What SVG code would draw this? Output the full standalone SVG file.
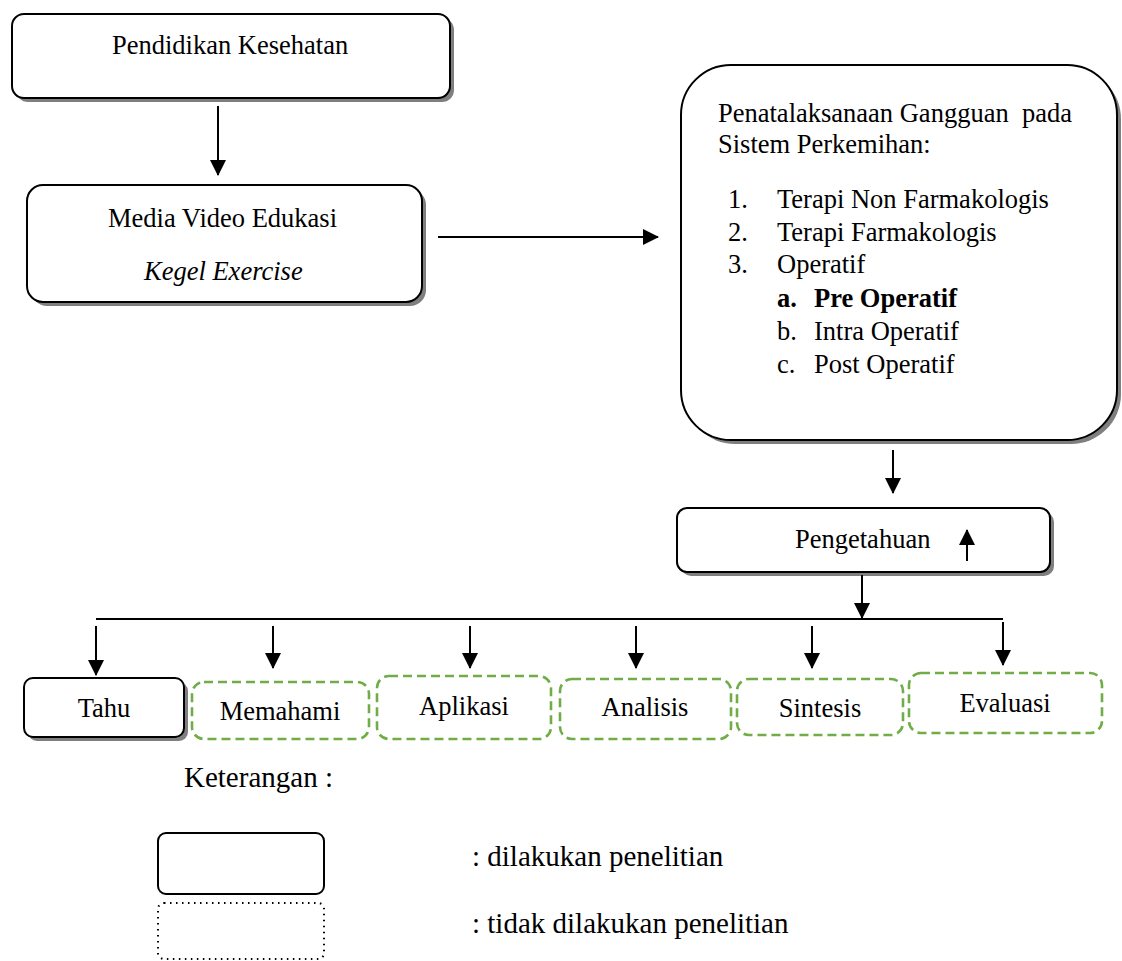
<svg xmlns="http://www.w3.org/2000/svg" xmlns:xlink="http://www.w3.org/1999/xlink" width="1122" height="961" viewBox="0 0 1122 961">
<style>
text{font-family:"Liberation Serif","Times New Roman",serif;font-size:26.5px;fill:#000}
.lg{font-size:29px}
.box{fill:#fff;stroke:#000;stroke-width:2}
.sh{fill:#7f7f7f;stroke:none}
.dash{fill:#fff;stroke:#70ad47;stroke-width:2.6;stroke-dasharray:9 5}
.dot{fill:none;stroke:#000;stroke-width:2;stroke-dasharray:1.5 4.5}
.ln{stroke:#000;stroke-width:2;fill:none}
.ar{stroke:#000;stroke-width:2;fill:none;marker-end:url(#ah)}
</style>
<defs>
<marker id="ah" viewBox="0 0 16 16" refX="15" refY="8" markerWidth="16" markerHeight="16" markerUnits="userSpaceOnUse" orient="auto">
<path d="M0,0 L16,8 L0,16 Z" fill="#000"/>
</marker>
</defs>
<rect width="1122" height="961" fill="#fff"/>

<g id="node-pendidikan">
<rect class="sh" x="16" y="18" width="438" height="84" rx="12"/>
<rect class="box" x="12" y="14" width="438" height="84" rx="12"/>
<text x="112" y="54">Pendidikan Kesehatan</text>
</g>

<g id="node-media">
<rect class="sh" x="31" y="189" width="395" height="117" rx="16"/>
<rect class="box" x="27" y="185" width="395" height="117" rx="16"/>
<text x="108" y="227">Media Video Edukasi</text>
<text x="144" y="280" font-style="italic">Kegel Exercise</text>
</g>

<g id="node-penatalaksanaan">
<rect class="sh" x="685" y="69" width="436" height="375" rx="50"/>
<rect class="box" x="681" y="65" width="436" height="375" rx="50"/>
<text x="718" y="122" xml:space="preserve">Penatalaksanaan Gangguan  pada</text>
<text x="718" y="153">Sistem Perkemihan:</text>
<text x="728" y="208">1.</text><text x="777" y="208">Terapi Non Farmakologis</text>
<text x="728" y="241">2.</text><text x="777" y="241">Terapi Farmakologis</text>
<text x="728" y="273">3.</text><text x="777" y="273">Operatif</text>
<text x="777" y="307" font-weight="bold">a.</text><text x="814" y="307" font-weight="bold">Pre Operatif</text>
<text x="777" y="340">b.</text><text x="814" y="340">Intra Operatif</text>
<text x="777" y="373">c.</text><text x="814" y="373">Post Operatif</text>
</g>

<g id="node-pengetahuan">
<rect class="sh" x="681" y="512" width="373" height="64" rx="10"/>
<rect class="box" x="677" y="508" width="373" height="64" rx="10"/>
<text x="795" y="548">Pengetahuan</text>
<line class="ar" x1="967" y1="561" x2="967" y2="530"/>
</g>

<g id="node-tahu">
<rect class="sh" x="28" y="682" width="160" height="59" rx="9"/>
<rect class="box" x="24" y="678" width="160" height="59" rx="9"/>
<text x="104" y="717" text-anchor="middle">Tahu</text>
</g>

<g id="node-memahami">
<rect class="dash" x="192" y="682" width="177" height="57" rx="12"/>
<text x="280" y="720" text-anchor="middle">Memahami</text>
</g>

<g id="node-aplikasi">
<rect class="dash" x="377" y="676" width="174" height="63" rx="12"/>
<text x="464" y="715" text-anchor="middle">Aplikasi</text>
</g>

<g id="node-analisis">
<rect class="dash" x="560" y="679" width="171" height="60" rx="12"/>
<text x="645" y="716" text-anchor="middle">Analisis</text>
</g>

<g id="node-sintesis">
<rect class="dash" x="737" y="679" width="166" height="56" rx="12"/>
<text x="820" y="717" text-anchor="middle">Sintesis</text>
</g>

<g id="node-evaluasi">
<rect class="dash" x="909" y="673" width="193" height="60" rx="12"/>
<text x="1005" y="712" text-anchor="middle">Evaluasi</text>
</g>

<g id="connectors">
<line class="ar" x1="218" y1="106" x2="218" y2="175"/>
<line class="ar" x1="438" y1="237" x2="658" y2="237"/>
<line class="ar" x1="893" y1="450" x2="893" y2="493"/>
<line class="ar" x1="862" y1="575" x2="862" y2="618"/>
<line class="ln" x1="96" y1="619" x2="1003" y2="619"/>
<line class="ar" x1="96" y1="626" x2="96" y2="675"/>
<line class="ar" x1="273" y1="626" x2="273" y2="668"/>
<line class="ar" x1="470" y1="626" x2="470" y2="668"/>
<line class="ar" x1="636" y1="626" x2="636" y2="668"/>
<line class="ar" x1="812" y1="626" x2="812" y2="668"/>
<line class="ar" x1="1003" y1="622" x2="1003" y2="665"/>
</g>

<g id="legend">
<text class="lg" x="184" y="787" xml:space="preserve">Keterangan :</text>
<rect class="box" x="158" y="833" width="166" height="61" rx="8"/>
<rect class="dot" x="158" y="903" width="166" height="56" rx="6"/>
<text class="lg" x="472" y="866">: dilakukan penelitian</text>
<text class="lg" x="472" y="933">: tidak dilakukan penelitian</text>
</g>
</svg>
